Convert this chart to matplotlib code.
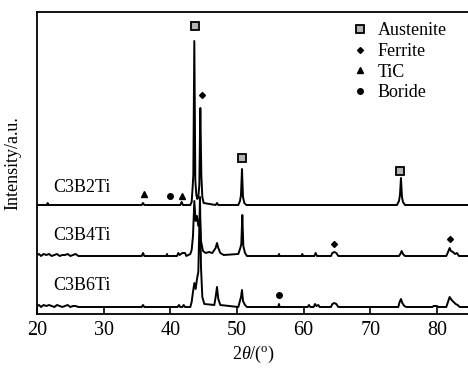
import numpy as np
import matplotlib
matplotlib.use("Agg")
import matplotlib.pyplot as plt

plt.rcParams['font.family'] = ['Liberation Serif', 'DejaVu Serif']
plt.rcParams['mathtext.fontset'] = 'custom'
plt.rcParams['mathtext.rm'] = 'Liberation Serif'
plt.rcParams['mathtext.it'] = 'Liberation Serif:italic'

# XRD patterns (2theta, relative intensity above each baseline)
x_b2 = [20, 21.5, 21.6, 21.7, 35.7, 35.9, 36.1, 41.5, 41.7, 41.9, 43.0, 43.2, 43.35, 43.45,
        43.6, 43.75, 43.9, 44.05, 44.2, 44.35, 44.5, 44.65, 44.8, 45.0, 46.8, 47.0, 47.2,
        50.2, 50.45, 50.6, 50.75, 50.9, 51.1, 51.4, 74.0, 74.3, 74.45, 74.6, 74.75, 74.9,
        75.2, 85]
y_b2 = [0, 0, 2, 0, 0, 2, 0, 0, 3, 0, 0, 3, 18, 30,
        164, 25, 10, 6, 8, 20, 97, 30, 8, 2, 0, 2, 0,
        0, 4, 10, 36, 8, 2, 0, 0, 4, 10, 27, 8, 3,
        0, 0]

x_b4 = [20, 20.3, 20.6, 21, 21.4, 21.8, 22.2, 22.6, 23, 23.4, 23.8, 24.2, 24.6, 25, 25.4,
        25.8, 26.2, 35.7, 35.9, 36.1, 39.4, 39.5, 39.6, 41.0, 41.2, 41.4, 41.6, 41.8, 42.2,
        42.4, 43.0, 43.2, 43.4, 43.6, 43.8, 44.0, 44.2, 44.45, 44.6, 44.9, 45.3, 45.8, 46.3,
        46.8, 47.0, 47.2, 47.5, 48.0, 50.2, 50.5, 50.65, 50.8, 50.95, 51.2, 51.5, 56.2, 56.3,
        56.4, 59.7, 59.8, 59.9, 61.6, 61.8, 62.0, 64.1, 64.3, 64.6, 64.9, 65.2, 74.3, 74.5,
        74.7, 74.9, 75.2, 81.4, 81.6, 81.9, 82.1, 82.4, 82.7, 83.0, 83.3, 85]
y_b4 = [1, 2, 0, 2, 1, 2, 0, 1, 2, 0, 1, 1, 2, 0, 1,
        2, 0, 0, 3, 0, 0, 2, 0, 0, 3, 1, 2, 3, 3,
        0, 2, 6, 20, 55, 35, 40, 30, 38, 15, 5, 3, 4, 3,
        8, 13, 8, 3, 1, 2, 8, 12, 41, 10, 3, 0, 0, 2,
        0, 0, 2, 0, 0, 3, 0, 0, 3, 4, 3, 0, 0, 2,
        5, 2, 0, 0, 3, 8, 5, 4, 2, 3, 0, 0]

x_b6 = [20, 20.3, 20.6, 21, 21.4, 21.8, 22.2, 22.6, 23, 23.4, 23.8, 24.2, 24.6, 25, 25.4,
        25.8, 26.2, 35.7, 35.9, 36.1, 41.1, 41.3, 41.5, 41.8, 42.0, 42.2, 43.0, 43.2, 43.4,
        43.6, 43.8, 44.0, 44.2, 44.45, 44.6, 44.8, 45.1, 46.6, 46.8, 47.0, 47.2, 47.5, 50.2,
        50.4, 50.6, 50.75, 50.9, 51.2, 51.5, 56.2, 56.3, 56.4, 60.6, 60.8, 61.0, 61.5, 61.7,
        61.9, 62.2, 62.4, 64.1, 64.3, 64.6, 64.9, 65.2, 74.2, 74.4, 74.6, 74.8, 75.1, 75.4,
        79.3, 79.5, 80.0, 80.2, 81.4, 81.6, 81.9, 82.2, 82.5, 82.8, 83.1, 83.4, 85]
y_b6 = [1, 2, 0, 2, 1, 2, 1, 0, 2, 1, 0, 1, 2, 0, 1,
        1, 0, 0, 2, 0, 0, 2, 0, 0, 2, 0, 0, 5, 15,
        24, 18, 28, 35, 110, 40, 10, 3, 2, 10, 20, 8, 2, 0,
        5, 10, 17, 6, 2, 0, 0, 3, 0, 0, 2, 0, 0, 3,
        1, 2, 0, 0, 3, 4, 3, 0, 0, 5, 8, 4, 1, 0,
        0, 1, 1, 0, 0, 4, 10, 7, 5, 3, 2, 0, 0]

sample_names = ['C3B2Ti', 'C3B4Ti', 'C3B6Ti']

# phase markers (2theta, height on the plot)
aus_x = [43.65, 50.8, 74.5]
aus_y = [288, 156, 143]
fer_x = [44.7, 64.6, 81.9]
fer_y = [219, 70, 75]
tic_x = [36.0, 41.8]
tic_y = [120, 118]
bor_x = [39.9, 56.3]
bor_y = [118, 19]

offsets = [109, 58, 7]

fig = plt.figure(figsize=(4.68, 3.69), dpi=100)
ax = fig.add_axes([37 / 468, 55 / 369, 433.3 / 468, 302.5 / 369])

for (xs, ys), off in zip([(x_b2, y_b2), (x_b4, y_b4), (x_b6, y_b6)], offsets):
    ax.plot(xs, np.array(ys) + off, color='black', lw=1.4)

lbl_y = [126, 79, 29]
for name, ly in zip(sample_names, lbl_y):
    ax.text(22.4, ly, name, fontsize=13, va='center', ha='left')

h1, = ax.plot(aus_x, aus_y, ls='none', marker='s', ms=5.5, mfc='#b4b4b4', mec='black', mew=1.3,
              label='Austenite')
h2, = ax.plot(fer_x, fer_y, ls='none', marker='D', ms=3, color='black', label='Ferrite')
h3, = ax.plot(tic_x, tic_y, ls='none', marker='^', ms=4.5, color='black', label='TiC')
h4, = ax.plot(bor_x, bor_y, ls='none', marker='o', ms=4, color='black', label='Boride')

ax.legend(handles=[h1, h2, h3, h4], loc='upper left', bbox_to_anchor=(0.703, 1.0),
          frameon=False, fontsize=13, handlelength=0.8, handletextpad=0.6,
          labelspacing=0.2, borderaxespad=0.2)

ax.set_xlim(20, 85)
ax.set_ylim(0, 302.5)
ax.set_xticks([20, 30, 40, 50, 60, 70, 80])
ax.set_yticks([])
ax.tick_params(axis='x', direction='in', length=5, width=1.2, labelsize=14.5, pad=5)
for s in ['left', 'bottom', 'top']:
    ax.spines[s].set_linewidth(1.3)
ax.spines['right'].set_visible(False)

ax.set_xlabel(r'2$\theta$/($^{\mathrm{o}}$)', fontsize=13, labelpad=3)
ax.set_ylabel('Intensity/a.u.', fontsize=13, labelpad=11)

fig.savefig('out.png', dpi=100)
